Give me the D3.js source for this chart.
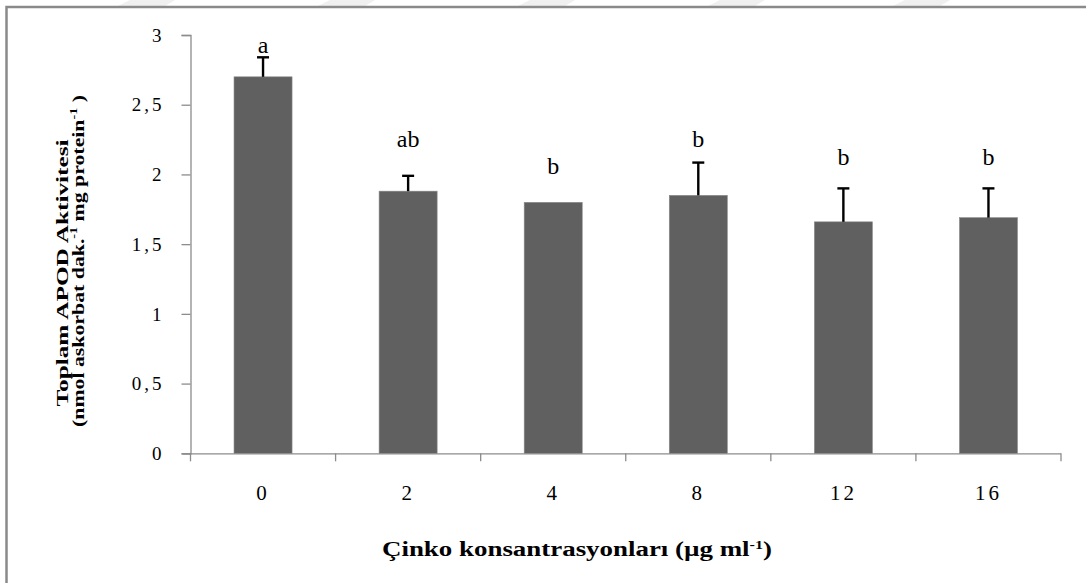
<!DOCTYPE html>
<html>
<head>
<meta charset="utf-8">
<script src="https://cdn.jsdelivr.net/npm/d3@7"></script>
<style>
  body { margin: 0; background: #fff; }
  svg { display: block; }
  text { font-family: "Liberation Serif", "Times New Roman", serif; fill: #000; }
</style>
</head>
<body>
<svg id="chart" width="1086" height="583"></svg>
<script>
// ---- data ----
const categories = ["0", "2", "4", "8", "12", "16"];
const values     = [2.70, 1.88, 1.80, 1.85, 1.66, 1.69];
const errors     = [0.14, 0.11, 0.00, 0.235, 0.24, 0.21];
const letters    = ["a", "ab", "b", "b", "b", "b"];
const letterPos  = [2.87, 2.20, 2.00, 2.20, 2.07, 2.07];
const yTicks     = [0, 0.5, 1, 1.5, 2, 2.5, 3];

const svg = d3.select("#chart");

// faint watermark stripes at the top edge
const stripes = [130, 330, 530, 720, 905, 1100];
svg.selectAll("path.wm").data(stripes).enter().append("path")
  .attr("d", d => `M${d},0 L${d + 45},0 L${d + 35},6 L${d - 12},6 Z`)
  .attr("fill", "#f0f0f0");

// outer frame (left and top visible)
svg.append("path")
  .attr("d", "M6.5,583 L6.5,7 L1086,7")
  .attr("fill", "none").attr("stroke", "#8a8a8a").attr("stroke-width", 2.5);

const pLeft = 190.5, pRight = 1061, pTop = 35, pBottom = 453.3;

const x = d3.scaleBand().domain(categories).range([pLeft, pRight]).paddingInner(0).paddingOuter(0);
const y = d3.scaleLinear().domain([0, 3]).range([pBottom, pTop]);
const barW = x.bandwidth() * 0.4;

// y axis
const yAxis = svg.append("g").attr("transform", `translate(${pLeft},0)`)
  .call(d3.axisLeft(y).tickValues(yTicks).tickSize(9).tickPadding(17)
        .tickFormat(d => String(d).replace(".", ",")));
yAxis.select(".domain").attr("stroke", "#8c8c8c").attr("stroke-width", 1.3);
yAxis.selectAll(".tick line").attr("stroke", "#8c8c8c").attr("stroke-width", 1.3);
yAxis.selectAll(".tick text")
  .style("font-family", "Liberation Serif").style("font-size", "19px")
  .style("letter-spacing", "3px").attr("fill", "#000").attr("dy", "0.33em");

// x axis
const xAxis = svg.append("g").attr("transform", `translate(0,${pBottom})`)
  .call(d3.axisBottom(x).tickSize(0).tickPadding(0));
xAxis.select(".domain").attr("stroke", "#8c8c8c").attr("stroke-width", 1.3)
  .attr("d", `M${pLeft - 8},0.5H${pRight}`);
xAxis.selectAll(".tick text")
  .style("font-family", "Liberation Serif").style("font-size", "21px")
  .style("letter-spacing", "3px").attr("fill", "#000").attr("y", 47).attr("dy", 0);
// category boundary ticks
const bounds = categories.map(c => x(c)).concat([x(categories[categories.length - 1]) + x.bandwidth()]);
svg.append("g").selectAll("line").data(bounds).enter().append("line")
  .attr("x1", d => d).attr("x2", d => d)
  .attr("y1", pBottom).attr("y2", pBottom + 8)
  .attr("stroke", "#8c8c8c").attr("stroke-width", 1.3);

// bars
svg.append("g").selectAll("rect").data(values).enter().append("rect")
  .attr("x", (d, i) => x(categories[i]) + (x.bandwidth() - barW) / 2)
  .attr("y", d => y(d))
  .attr("width", barW)
  .attr("height", d => y(0) - y(d))
  .attr("fill", "#606060")
  .attr("stroke", "#8a8a8a").attr("stroke-width", 0.6);

// error bars (upper only)
const eg = svg.append("g").attr("stroke", "#000").attr("stroke-width", 2.4);
values.forEach((v, i) => {
  if (errors[i] <= 0) return;
  const cx = x(categories[i]) + x.bandwidth() / 2;
  eg.append("line").attr("x1", cx).attr("x2", cx).attr("y1", y(v)).attr("y2", y(v + errors[i]));
  eg.append("line").attr("x1", cx - 6).attr("x2", cx + 6).attr("y1", y(v + errors[i])).attr("y2", y(v + errors[i]));
});

// significance letters
svg.append("g").selectAll("text").data(letters).enter().append("text")
  .attr("x", (d, i) => x(categories[i]) + x.bandwidth() / 2)
  .attr("y", (d, i) => y(letterPos[i]))
  .attr("text-anchor", "middle")
  .style("font-size", "24px")
  .text(d => d);

// x axis title
const xt = svg.append("text")
  .attr("x", 577).attr("y", 556).attr("text-anchor", "middle")
  .attr("textLength", 390).attr("lengthAdjust", "spacingAndGlyphs")
  .style("font-size", "20px").style("font-weight", "bold");
xt.append("tspan").text("Çinko konsantrasyonları (µg ml");
xt.append("tspan").attr("dy", -7).style("font-size", "12px").text("-1");
xt.append("tspan").attr("dy", 7).text(")");

// y axis title (two lines)
svg.append("text")
  .attr("transform", "translate(68,273) rotate(-90)")
  .attr("text-anchor", "middle")
  .attr("textLength", 267).attr("lengthAdjust", "spacingAndGlyphs")
  .style("font-size", "17px").style("font-weight", "bold")
  .text("Toplam APOD Aktivitesi");

const yt2 = svg.append("text")
  .attr("transform", "translate(84,261) rotate(-90)")
  .attr("text-anchor", "middle")
  .attr("textLength", 332).attr("lengthAdjust", "spacingAndGlyphs")
  .style("font-size", "17px").style("font-weight", "bold");
yt2.append("tspan").text("(nmol askorbat dak.");
yt2.append("tspan").attr("dy", -7).style("font-size", "11px").text("-1");
yt2.append("tspan").attr("dy", 7).text("  mg protein");
yt2.append("tspan").attr("dy", -7).style("font-size", "11px").text("-1");
yt2.append("tspan").attr("dy", 7).text(" )");
</script>
</body>
</html>
